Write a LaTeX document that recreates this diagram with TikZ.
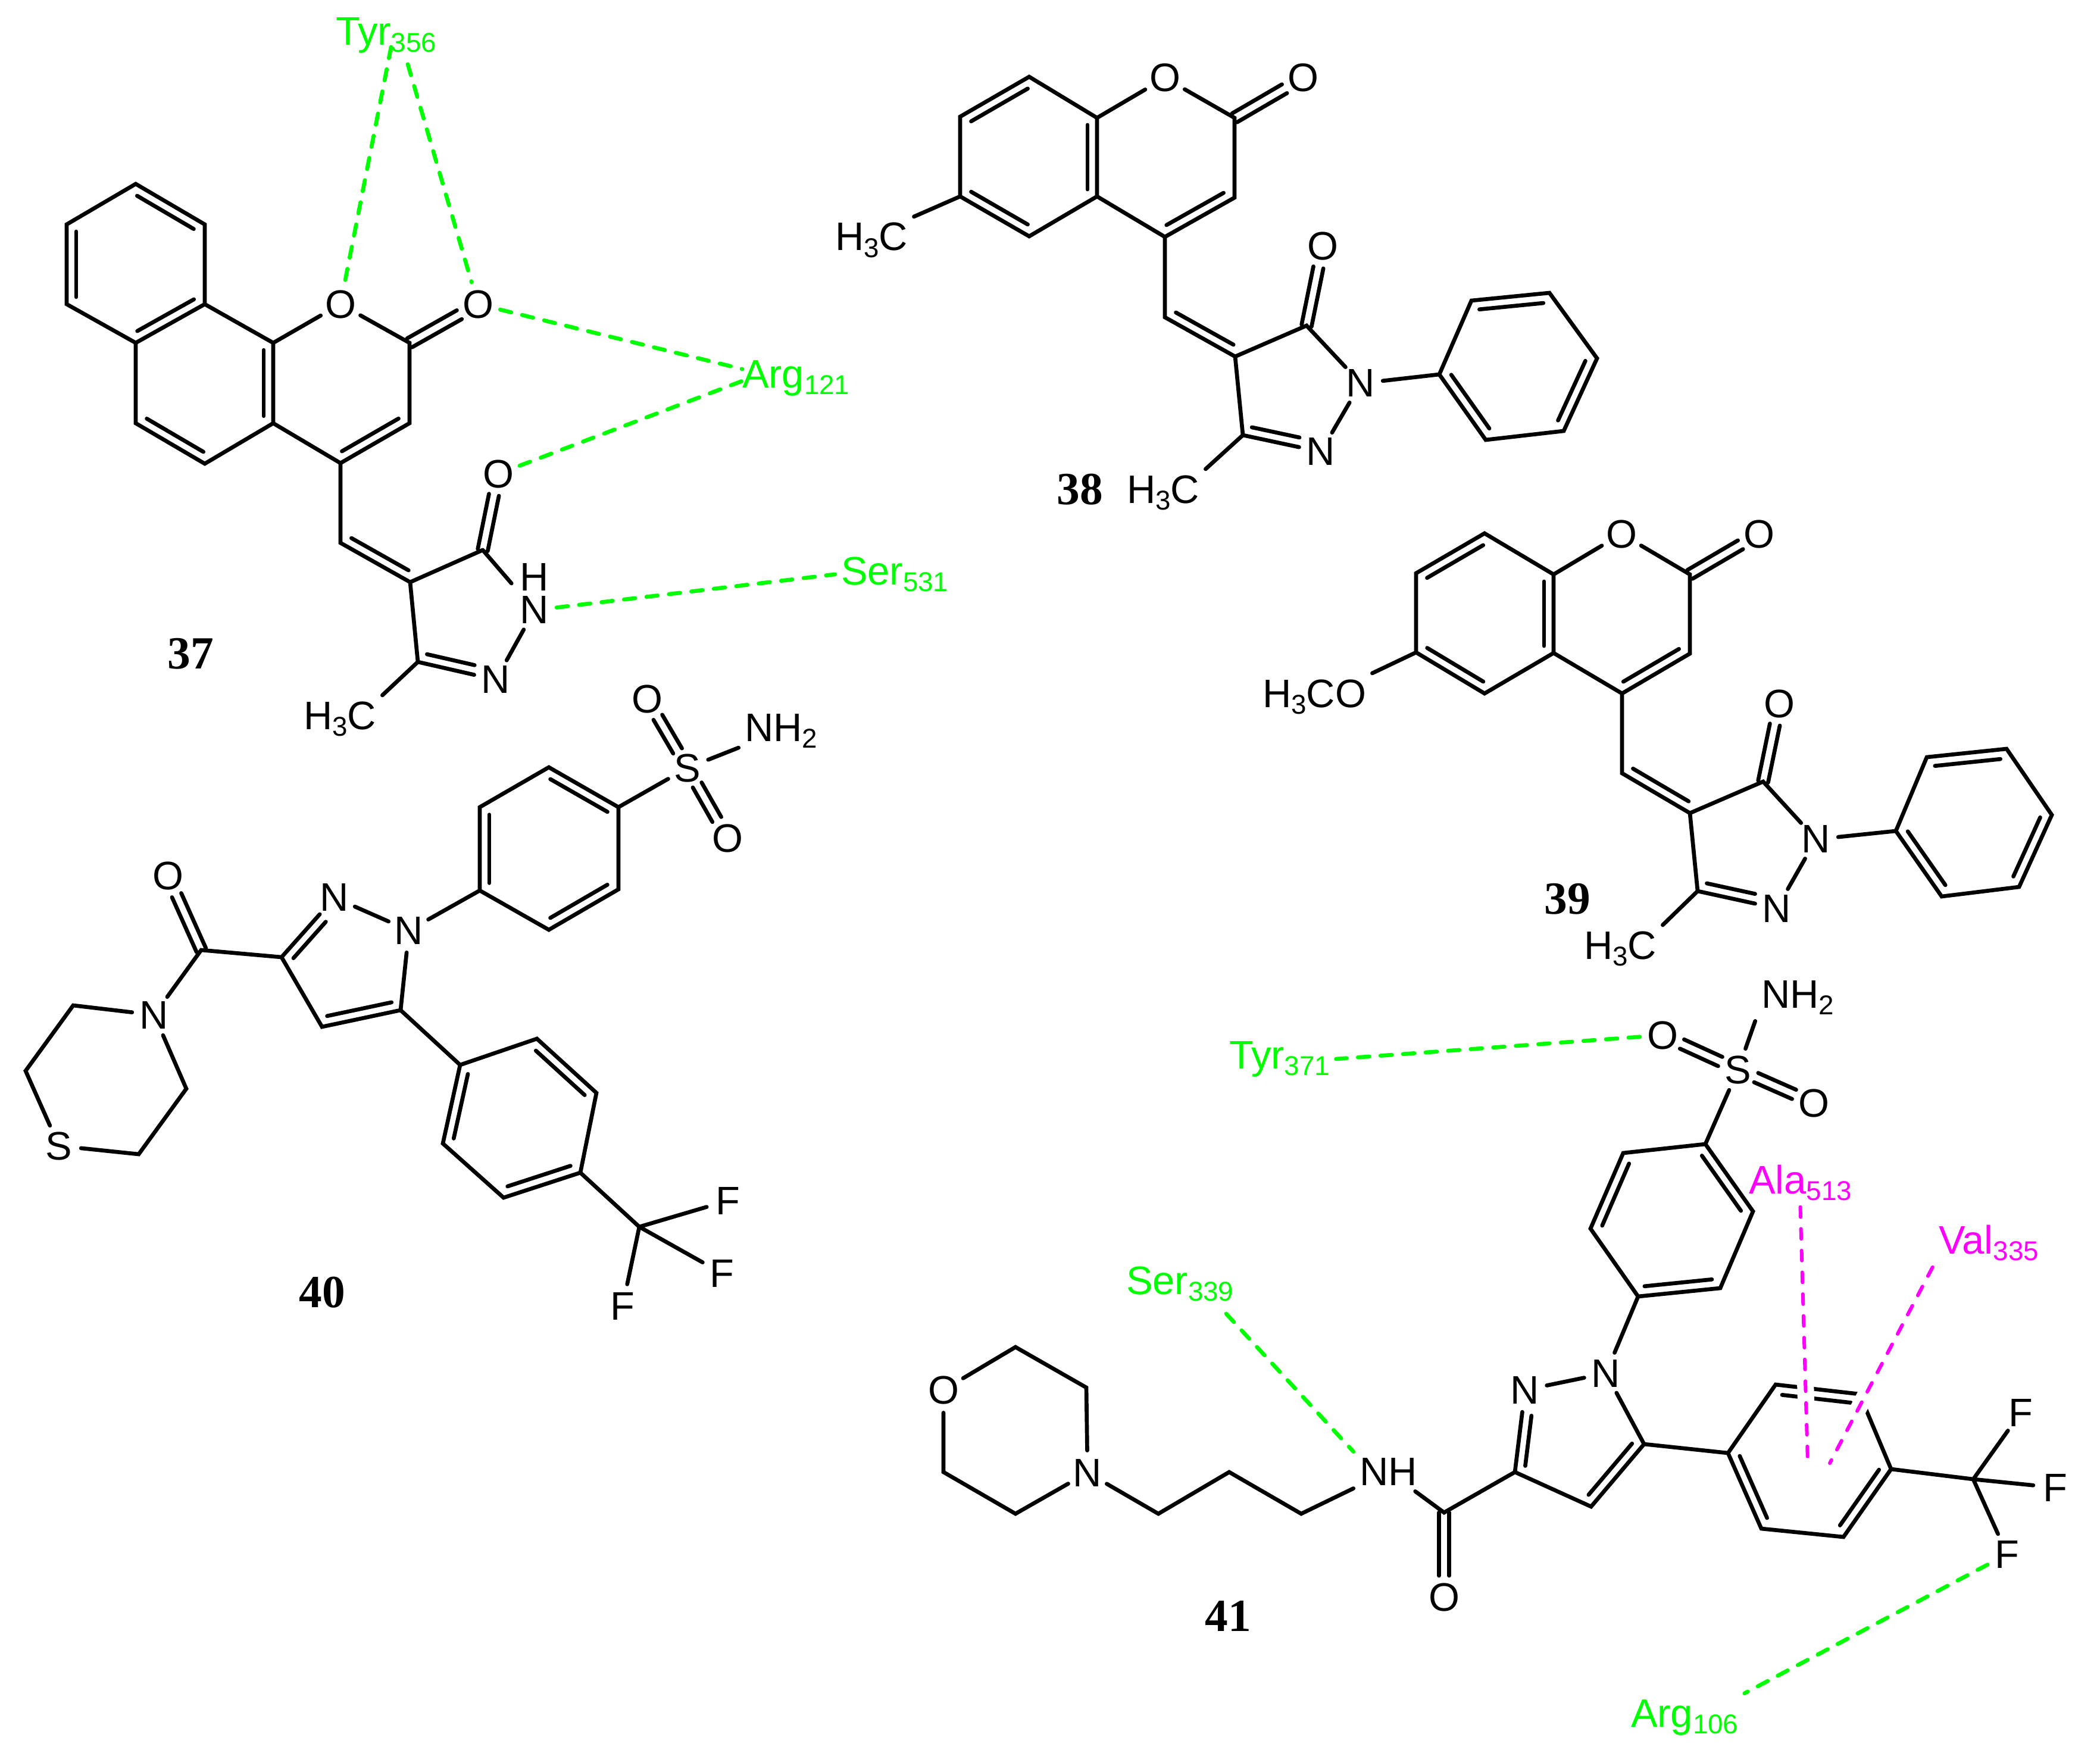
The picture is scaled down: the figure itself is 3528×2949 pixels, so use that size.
\documentclass[tikz,border=0pt]{standalone}
\usepackage{fontspec}
\setmainfont{Liberation Sans}
\newfontfamily\numfont{Liberation Serif}
\usepackage{xcolor}
\usetikzlibrary{calc}
\definecolor{hbgreen}{RGB}{0,255,0}
\definecolor{pimagenta}{RGB}{255,0,255}
\newcommand{\lowsub}[1]{\raisebox{-3.4pt}{\fontsize{13}{13}\selectfont #1}}
% inner line of a double bond, on the right of a->b, with the trims at a and b
\newcommand{\inbond}[4]{\draw ($(#1)!#3!(#2)!.16cm!-90:(#2)$) -- ($(#2)!#4!(#1)!.16cm!90:(#1)$);}
% two equal lines, for C=O and S=O
\newcommand{\twobond}[3][0cm]{%
  \draw ($(#2)!#1!(#3)!.085cm!90:(#3)$) -- ($(#3)!.36cm!(#2)!.085cm!-90:(#2)$);
  \draw ($(#2)!#1!(#3)!.085cm!-90:(#3)$) -- ($(#3)!.36cm!(#2)!.085cm!90:(#2)$);}
\tikzset{
  atom/.style={circle,inner sep=0pt,minimum size=.68cm,font=\fontsize{19}{21}\selectfont},
  group/.style={anchor=base west,inner sep=2pt,xshift=-3.5pt,font=\fontsize{19}{21}\selectfont},
  resname/.style={group,text=hbgreen},
  resnamepi/.style={group,text=pimagenta},
  cmpd/.style={inner sep=0pt,font=\fontsize{22}{24}\selectfont\numfont\bfseries},
  hbond/.style={hbgreen,line width=1.9pt,dash pattern=on 5.4pt off 5.4pt},
  pibond/.style={pimagenta,line width=1.7pt,dash pattern=on 4.8pt off 5.6pt},
  pihalo/.style={white,line width=8pt,line cap=butt},
}
\begin{document}
\begin{tikzpicture}[x=.01cm,y=-.01cm,line width=1.9pt,line join=miter,line cap=round]
\useasboundingbox (0,0) rectangle (3528,2949);
%COMPOUND 37
\coordinate (a1) at (228,309); \coordinate (a2) at (344,377); \coordinate (a3) at (344,511);
\coordinate (a4) at (228,576); \coordinate (a5) at (112,511); \coordinate (a6) at (112,377);
\coordinate (b1) at (459,576); \coordinate (b2) at (459,711); \coordinate (b3) at (344,779);
\coordinate (b4) at (228,711); \coordinate (c1) at (688,576); \coordinate (c2) at (688,711);
\coordinate (c3) at (572,778); \coordinate (d1) at (572,912); \coordinate (d2) at (689,978);
\coordinate (e1) at (811,924); \coordinate (e2) at (702,1112);
\node[atom] (oa) at (572,511) {O};
\node[atom] (ob) at (803,511) {O};
\node[atom] (oc) at (837,796) {O};
\node[atom] (nh) at (898,1025) {N};
\node[atom] (hh) at (898,970) {H};
\node[atom] (nb) at (833,1142) {N};
\node[group] (mea) at (512,1225) {H\lowsub{3}C};
\draw (a1) -- (a2) -- (a3) -- (a4) -- (a5) -- (a6) -- cycle;
\draw (a3) -- (b1) -- (b2) -- (b3) -- (b4) -- (a4);
\draw (b1) -- (oa) -- (c1) -- (c2) -- (c3) -- (b2);
\draw (c3) -- (d1) -- (d2) -- (e1);
\draw[shorten >=.22cm] (e1) -- (nh);
\draw (nh) -- (nb) -- (e2) -- (d2);
\draw (e2) -- (mea.north east);
\inbond{a1}{a2}{.09}{.09} \inbond{a3}{a4}{.09}{.09} \inbond{a5}{a6}{.09}{.09}
\inbond{b1}{b2}{.09}{.09} \inbond{b3}{b4}{.09}{.09} \inbond{c2}{c3}{.09}{.09}
\inbond{d2}{d1}{.09}{.09} \inbond{nb}{e2}{.3}{.09}
\twobond{c1}{ob} \twobond{e1}{oc}
\node[cmpd] (lba) at (320,1098) {37};
%COMPOUND 38
\coordinate (f1) at (1729,129); \coordinate (f2) at (1843,198); \coordinate (f3) at (1843,330);
\coordinate (f4) at (1729,397); \coordinate (f5) at (1613,330); \coordinate (f6) at (1613,196);
\coordinate (g1) at (2074,198); \coordinate (g2) at (2074,332); \coordinate (g3) at (1957,398);
\coordinate (h1) at (1957,533); \coordinate (h2) at (2075,599); \coordinate (i1) at (2195,547);
\coordinate (i2) at (2088,731); \coordinate (j1) at (2418,629); \coordinate (j2) at (2472,505);
\coordinate (j3) at (2603,492); \coordinate (j4) at (2683,602); \coordinate (j5) at (2627,724);
\coordinate (j6) at (2496,739);
\node[atom] (od) at (1957,131) {O};
\node[atom] (oe) at (2189,131) {O};
\node[atom] (of) at (2222,414) {O};
\node[atom] (nc) at (2286,644) {N};
\node[atom] (nd) at (2219,759) {N};
\node[group] (meb) at (1405,421) {H\lowsub{3}C};
\node[group] (mec) at (1895,845) {H\lowsub{3}C};
\draw (f1) -- (f2) -- (f3) -- (f4) -- (f5) -- (f6) -- cycle;
\draw (f2) -- (od) -- (g1) -- (g2) -- (g3) -- (f3);
\draw (g3) -- (h1) -- (h2) -- (i1) -- (nc) -- (nd) -- (i2) -- (h2);
\draw (nc) -- (j1);
\draw (j1) -- (j2) -- (j3) -- (j4) -- (j5) -- (j6) -- cycle;
\draw (f5) -- (meb.north east);
\draw (i2) -- (mec.north east);
\inbond{f6}{f1}{.09}{.09} \inbond{f2}{f3}{.09}{.09} \inbond{f4}{f5}{.09}{.09}
\inbond{g2}{g3}{.09}{.09} \inbond{h2}{h1}{.09}{.09} \inbond{nd}{i2}{.3}{.09}
\inbond{j2}{j3}{.09}{.09} \inbond{j4}{j5}{.09}{.09} \inbond{j6}{j1}{.09}{.09}
\twobond{g1}{oe} \twobond{i1}{of}
\node[cmpd] (lbb) at (1814,822) {38};
%COMPOUND 39
\coordinate (k1) at (2494,896); \coordinate (k2) at (2610,965); \coordinate (k3) at (2610,1097);
\coordinate (k4) at (2494,1165); \coordinate (k5) at (2379,1096); \coordinate (k6) at (2379,963);
\coordinate (l1) at (2839,965); \coordinate (l2) at (2839,1098); \coordinate (l3) at (2725,1165);
\coordinate (m1) at (2725,1299); \coordinate (m2) at (2839,1366); \coordinate (n1) at (2962,1313);
\coordinate (n2) at (2852,1497); \coordinate (p1) at (3185,1396); \coordinate (p2) at (3237,1272);
\coordinate (p3) at (3371,1258); \coordinate (p4) at (3447,1369); \coordinate (p5) at (3392,1490);
\coordinate (p6) at (3262,1506);
\node[atom] (og) at (2724,897) {O};
\node[atom] (oh) at (2955,897) {O};
\node[atom] (oi) at (2989,1182) {O};
\node[atom] (ne) at (3051,1410) {N};
\node[atom] (nf) at (2985,1526) {N};
\node[group] (mod) at (2123,1188) {H\lowsub{3}CO};
\node[group] (med) at (2663,1611) {H\lowsub{3}C};
\draw (k1) -- (k2) -- (k3) -- (k4) -- (k5) -- (k6) -- cycle;
\draw (k2) -- (og) -- (l1) -- (l2) -- (l3) -- (k3);
\draw (l3) -- (m1) -- (m2) -- (n1) -- (ne) -- (nf) -- (n2) -- (m2);
\draw (ne) -- (p1);
\draw (p1) -- (p2) -- (p3) -- (p4) -- (p5) -- (p6) -- cycle;
\draw (k5) -- (mod.north east);
\draw (n2) -- (med.north east);
\inbond{k6}{k1}{.09}{.09} \inbond{k2}{k3}{.09}{.09} \inbond{k4}{k5}{.09}{.09}
\inbond{l2}{l3}{.09}{.09} \inbond{m2}{m1}{.09}{.09} \inbond{nf}{n2}{.3}{.09}
\inbond{p2}{p3}{.09}{.09} \inbond{p4}{p5}{.09}{.09} \inbond{p6}{p1}{.09}{.09}
\twobond{l1}{oh} \twobond{n1}{oi}
\node[cmpd] (lbc) at (2633,1510) {39};
%COMPOUND 40
\coordinate (q1) at (123,1689); \coordinate (q2) at (43,1799); \coordinate (q3) at (233,1939);
\coordinate (q4) at (313,1829); \coordinate (r1) at (338,1596); \coordinate (s1) at (473,1608);
\coordinate (s2) at (673,1697); \coordinate (s3) at (541,1725); \coordinate (t1) at (806,1496);
\coordinate (t2) at (806,1356); \coordinate (t3) at (922,1289); \coordinate (t4) at (1039,1356);
\coordinate (t5) at (1039,1494); \coordinate (t6) at (922,1562); \coordinate (u1) at (773,1789);
\coordinate (u2) at (902,1745); \coordinate (u3) at (1002,1836); \coordinate (u4) at (975,1970);
\coordinate (u5) at (846,2012); \coordinate (u6) at (744,1921); \coordinate (v1) at (1074,2061);
\node[atom] (ng) at (259,1705) {N};
\node[atom] (sa) at (99,1925) {S};
\node[atom] (oj) at (282,1471) {O};
\node[atom] (nj) at (562,1508) {N};
\node[atom] (nk) at (687,1563) {N};
\node[atom] (sb) at (1155,1290) {S};
\node[atom] (ok) at (1087,1174) {O};
\node[atom] (ol) at (1222,1408) {O};
\node[group] (nha) at (1253,1245) {NH\lowsub{2}};
\node[atom] (fa) at (1223,2017) {F};
\node[atom] (fb) at (1213,2139) {F};
\node[atom] (fc) at (1046,2194) {F};
\draw (ng) -- (q1) -- (q2) -- (sa) -- (q3) -- (q4) -- (ng) -- (r1) -- (s1) -- (nj) -- (nk) -- (s2) -- (s3) -- (s1);
\draw (nk) -- (t1) -- (t2) -- (t3) -- (t4) -- (t5) -- (t6) -- (t1);
\draw (t4) -- (sb) -- (nha);
\draw (s2) -- (u1) -- (u2) -- (u3) -- (u4) -- (u5) -- (u6) -- (u1);
\draw (u4) -- (v1) -- (fa);
\draw (v1) -- (fb);
\draw (v1) -- (fc);
\inbond{s1}{nj}{.09}{.3} \inbond{s2}{s3}{.09}{.09}
\inbond{t1}{t2}{.09}{.09} \inbond{t3}{t4}{.09}{.09} \inbond{t5}{t6}{.09}{.09}
\inbond{u2}{u3}{.09}{.09} \inbond{u4}{u5}{.09}{.09} \inbond{u6}{u1}{.09}{.09}
\twobond{r1}{oj} \twobond[.33cm]{sb}{ok} \twobond[.33cm]{sb}{ol}
\node[cmpd] (lbd) at (541,2171) {40};
%COMPOUND 41
\coordinate (w1) at (1706,2263); \coordinate (w2) at (1825,2331); \coordinate (w3) at (1706,2543);
\coordinate (w4) at (1585,2473); \coordinate (x1) at (1946,2543); \coordinate (x2) at (2065,2473);
\coordinate (x3) at (2186,2543); \coordinate (y1) at (2426,2541); \coordinate (z1) at (2545,2473);
\coordinate (z2) at (2762,2426); \coordinate (z3) at (2673,2531); \coordinate (aa) at (2752,2178);
\coordinate (ab) at (2672,2064); \coordinate (ac) at (2727,1937); \coordinate (ad) at (2865,1922);
\coordinate (ae) at (2945,2035); \coordinate (af) at (2890,2164); \coordinate (ba) at (2903,2441);
\coordinate (bb) at (2983,2326); \coordinate (bc) at (3124,2342); \coordinate (bd) at (3177,2468);
\coordinate (be) at (3097,2582); \coordinate (bf) at (2959,2568); \coordinate (cf) at (3315,2485);
\node[atom] (om) at (1585,2335) {O};
\node[atom] (nm) at (1827,2474) {N};
\node[group] (nhb) at (2286,2495) {NH};
\node[atom] (on) at (2426,2683) {O};
\node[atom] (nn) at (2562,2335) {N};
\node[atom] (np) at (2698,2307) {N};
\node[atom] (sc) at (2920,1797) {S};
\node[atom] (op) at (2793,1739) {O};
\node[atom] (oq) at (3047,1853) {O};
\node[group] (nhc) at (2961,1693) {NH\lowsub{2}};
\node[atom] (fd) at (3395,2373) {F};
\node[atom] (fe) at (3453,2499) {F};
\node[atom] (ff) at (3372,2611) {F};
\draw (om) -- (w1) -- (w2) -- (nm) -- (w3) -- (w4) -- (om);
\draw (nm) -- (x1) -- (x2) -- (x3) -- (nhb) -- (y1) -- (z1) -- (nn) -- (np) -- (z2) -- (z3) -- (z1);
\draw (np) -- (aa) -- (ab) -- (ac) -- (ad) -- (ae) -- (af) -- (aa);
\draw (ad) -- (sc) -- (nhc.south west);
\draw (z2) -- (ba) -- (bb) -- (bc) -- (bd) -- (be) -- (bf) -- (ba);
\draw (bd) -- (cf) -- (fd);
\draw (cf) -- (fe);
\draw (cf) -- (ff);
\inbond{z1}{nn}{.09}{.3} \inbond{z2}{z3}{.09}{.09}
\inbond{ab}{ac}{.09}{.09} \inbond{ad}{ae}{.09}{.09} \inbond{af}{aa}{.09}{.09}
\inbond{bb}{bc}{.09}{.09} \inbond{bd}{be}{.09}{.09} \inbond{bf}{ba}{.09}{.09}
\twobond{y1}{on} \twobond[.33cm]{sc}{op} \twobond[.33cm]{sc}{oq}
\node[cmpd] (lbe) at (2063,2715) {41};
%GREEN CONTACTS
\node[resname] (tyra) at (566,76) {Tyr\lowsub{356}};
\node[resname] (arga) at (1249,651) {Arg\lowsub{121}};
\node[resname] (sera) at (1415,982) {Ser\lowsub{531}};
\node[resname] (tyrb) at (2067,1795) {Tyr\lowsub{371}};
\node[resname] (serb) at (1894,2174) {Ser\lowsub{339}};
\node[resname] (argb) at (2742,2901) {Arg\lowsub{106}};
\coordinate (tyrl) at (657,79);
\coordinate (tyrr) at (685,108);
\coordinate (argt) at (1247,620);
\coordinate (argu) at (1247,640);
\coordinate (serend) at (2060,2207);
\draw[hbond] (tyrl) -- (oa);
\draw[hbond] (tyrr) -- (ob);
\draw[hbond] (ob) -- (argt);
\draw[hbond] (oc) -- (argu);
\draw[hbond] (nh) -- (sera.west);
\draw[hbond] (op) -- (tyrb.east);
\draw[hbond] (serend) -- (nhb.north west);
\draw[hbond] (ff) -- (argb.north east);
%MAGENTA CONTACTS
\node[resnamepi] (alaa) at (2940,2005) {Ala\lowsub{513}};
\node[resnamepi] (vala) at (3259,2106) {Val\lowsub{335}};
\coordinate (alaend) at (3037,2458);
\coordinate (valend) at (3074,2458);
\draw[pihalo] (alaa.south) -- (alaend);
\draw[pihalo] (vala.south west) -- (valend);
\draw[pibond] (alaa.south) -- (alaend);
\draw[pibond] (vala.south west) -- (valend);
\end{tikzpicture}
\end{document}
